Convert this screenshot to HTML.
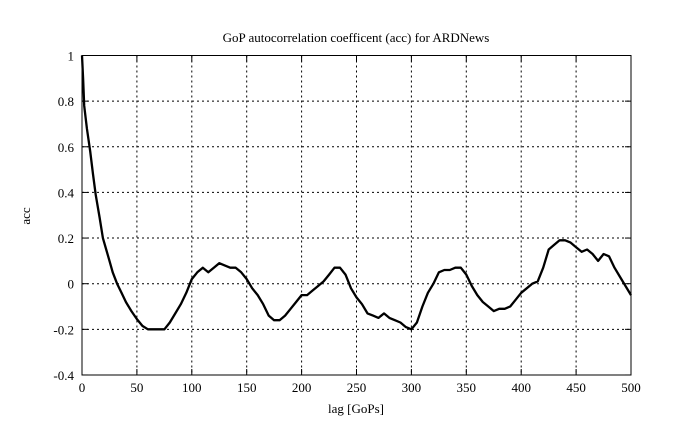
<!DOCTYPE html>
<html><head><meta charset="utf-8"><style>
body{margin:0;background:#fff}
svg{display:block;font-family:"Liberation Serif",serif;font-size:13px}
</style></head><body>
<svg id="s" width="689" height="433" xmlns="http://www.w3.org/2000/svg">
<rect width="689" height="433" fill="#fff"/>
<text x="356" y="42" text-anchor="middle">GoP autocorrelation coefficent (acc) for ARDNews</text>
<text x="356" y="413" text-anchor="middle">lag [GoPs]</text>
<text x="30" y="216" text-anchor="middle" transform="rotate(-90 30 216)">acc</text>
<g id="g"></g>
<rect x="82" y="55.5" width="549" height="319.5" fill="none" stroke="#000" stroke-width="1"/>
</svg>
<script>
const g=document.getElementById('g');
const X=l=>82+l*1.098, Y=v=>55.5+(1-v)*228.2;
let h='';
for(let i=0;i<=10;i++){const x=X(i*50);
 if(i>0&&i<10)h+=`<line x1="${x}" y1="55.5" x2="${x}" y2="375" stroke="#000" stroke-dasharray="2,3"/>`;
 h+=`<line x1="${x}" y1="375" x2="${x}" y2="369" stroke="#000"/><line x1="${x}" y1="55.5" x2="${x}" y2="61.5" stroke="#000"/>`;
 h+=`<text x="${x}" y="392" text-anchor="middle">${i*50}</text>`;}
const yl=['1','0.8','0.6','0.4','0.2','0','-0.2','-0.4'];
for(let i=0;i<8;i++){const v=1-i*0.2,y=Y(v);
 if(i>0&&i<7)h+=`<line x1="82" y1="${y}" x2="631" y2="${y}" stroke="#000" stroke-dasharray="2,3"/>`;
 h+=`<line x1="82" y1="${y}" x2="88" y2="${y}" stroke="#000"/><line x1="631" y1="${y}" x2="625" y2="${y}" stroke="#000"/>`;
 h+=`<text x="74" y="${y+5}" text-anchor="end">${yl[i]}</text>`;}
const pre=[[0,1],[1,0.9],[2,0.78],[4.5,0.68],[7.5,0.58],[10,0.48],[12.5,0.39],[16,0.29],[19,0.2],[22,0.15],[25,0.1],[28,0.05],[32,0],[36,-0.04],[40,-0.08],[45,-0.12],[50,-0.155],[55,-0.185],[60,-0.2]];
const d=[-0.2,-0.2,-0.2,-0.17,-0.13,-0.09,-0.04,0.02,0.05,0.07,0.05,0.07,0.09,0.08,0.07,0.07,0.05,0.02,-0.02,-0.05,-0.09,-0.14,-0.16,-0.16,-0.14,-0.11,-0.08,-0.05,-0.05,-0.03,-0.01,0.01,0.04,0.07,0.07,0.04,-0.02,-0.06,-0.09,-0.13,-0.14,-0.15,-0.13,-0.15,-0.16,-0.17,-0.19,-0.2,-0.17,-0.1,-0.04,0.0,0.05,0.06,0.06,0.07,0.07,0.04,-0.01,-0.05,-0.08,-0.1,-0.12,-0.11,-0.11,-0.1,-0.07,-0.04,-0.02,0.0,0.01,0.07,0.15,0.17,0.19,0.19,0.18,0.16,0.14,0.15,0.13,0.1,0.13,0.12,0.07,0.03,-0.01,-0.05];
const pts=pre.concat(d.map((v,i)=>[65+i*5,v]));
h+=`<polyline fill="none" stroke="#000" stroke-width="2.3" stroke-linejoin="round" points="${pts.map(p=>X(p[0]).toFixed(1)+','+Y(p[1]).toFixed(1)).join(' ')}"/>`;
g.innerHTML=h;
</script>
</body></html>
